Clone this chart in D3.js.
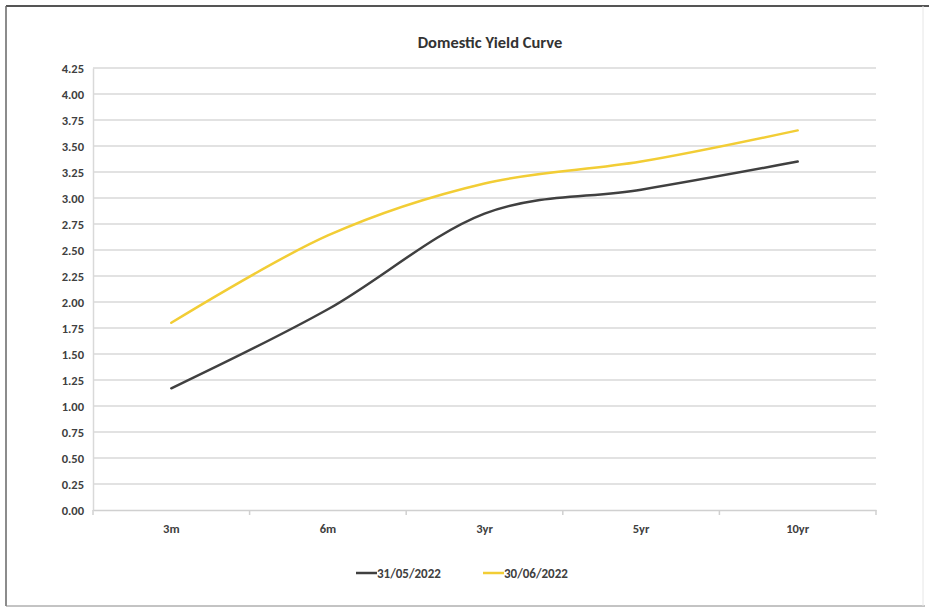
<!DOCTYPE html>
<html>
<head>
<meta charset="utf-8">
<script src="https://cdn.jsdelivr.net/npm/d3@7"></script>
<style>
  html, body { margin: 0; padding: 0; background: #fff; }
  svg { display: block; }
  text { font-family: Carlito, "Liberation Sans Narrow", "Open Sans", sans-serif; }
</style>
</head>
<body>
<svg id="chart" width="929" height="611"></svg>
<script>
const categories = ["3m", "6m", "3yr", "5yr", "10yr"];
const seriesNames = ["31/05/2022", "30/06/2022"];
const may2022 = [1.17, 1.93, 2.85, 3.08, 3.35];
const jun2022 = [1.80, 2.64, 3.14, 3.35, 3.65];
const yTicks = [0, 0.25, 0.5, 0.75, 1, 1.25, 1.5, 1.75, 2, 2.25, 2.5, 2.75, 3, 3.25, 3.5, 3.75, 4, 4.25];
const colors = ["#404040", "#F2CD35"];
const title = "Domestic Yield Curve";

const svg = d3.select("#chart");
const m = {left: 93, right: 876, top: 68, bottom: 510};

// frame
svg.append("line").attr("x1", 6).attr("x2", 929).attr("y1", 6).attr("y2", 6).attr("stroke", "#555").attr("stroke-width", 2);
svg.append("line").attr("x1", 6).attr("x2", 6).attr("y1", 6).attr("y2", 606).attr("stroke", "#666").attr("stroke-width", 1.5);
svg.append("line").attr("x1", 6).attr("x2", 925).attr("y1", 606).attr("y2", 606).attr("stroke", "#888").attr("stroke-width", 1);
svg.append("line").attr("x1", 923).attr("x2", 923).attr("y1", 6).attr("y2", 606).attr("stroke", "#e6e6e6").attr("stroke-width", 1);

const x = d3.scaleBand().domain(categories).range([m.left, m.right]).padding(0);
const y = d3.scaleLinear().domain([0, 4.25]).range([m.bottom, m.top]);

// gridlines
svg.append("g").selectAll("line").data(yTicks.filter(d => d > 0)).join("line")
  .attr("x1", m.left).attr("x2", m.right)
  .attr("y1", d => y(d)).attr("y2", d => y(d))
  .attr("stroke", "#d9d9d9").attr("stroke-width", 1.5);

// y axis
const yAxis = d3.axisLeft(y).tickValues(yTicks).tickFormat(d3.format(".2f")).tickSize(0).tickPadding(9);
const gy = svg.append("g").attr("transform", `translate(${m.left},0)`).call(yAxis);
gy.select(".domain").attr("stroke", "#d9d9d9").attr("stroke-width", 1.5);
gy.selectAll("text").attr("fill", "#404040").attr("font-size", 12.5).attr("font-weight", "bold");

// x axis
const xAxis = d3.axisBottom(x).tickSize(0).tickPadding(14);
const gx = svg.append("g").attr("transform", `translate(0,${m.bottom})`).call(xAxis);
gx.select(".domain").attr("stroke", "#d0d0d0").attr("stroke-width", 1.5);
gx.selectAll("text").attr("fill", "#404040").attr("font-size", 12.5).attr("font-weight", "bold");
const bounds = categories.map(c => x(c)).concat([m.right]);
svg.append("g").selectAll("line").data(bounds).join("line")
  .attr("x1", d => d).attr("x2", d => d)
  .attr("y1", m.bottom).attr("y2", m.bottom + 5)
  .attr("stroke", "#d0d0d0").attr("stroke-width", 1.5);

// lines
const line = d3.line()
  .x((d, i) => x(categories[i]) + x.bandwidth() / 2)
  .y(d => y(d))
  .curve(d3.curveCatmullRom.alpha(0));
[may2022, jun2022].forEach((s, k) => {
  svg.append("path").datum(s).attr("d", line)
    .attr("fill", "none").attr("stroke", colors[k]).attr("stroke-width", 2.5)
    .attr("stroke-linecap", "round");
});

// title
svg.append("text").attr("x", 490).attr("y", 48).attr("text-anchor", "middle")
  .attr("font-size", 16.5).attr("font-weight", "bold").attr("fill", "#333").text(title);

// legend
const legendX = [356, 483];
seriesNames.forEach((n, k) => {
  const g = svg.append("g").attr("transform", `translate(${legendX[k]},573)`);
  g.append("line").attr("x1", 0).attr("x2", 21).attr("y1", 0).attr("y2", 0)
    .attr("stroke", colors[k]).attr("stroke-width", 2.5);
  g.append("text").attr("x", 21).attr("y", 4.5).attr("font-size", 13).attr("font-weight", "bold")
    .attr("fill", "#404040").text(n);
});
</script>
</body>
</html>
